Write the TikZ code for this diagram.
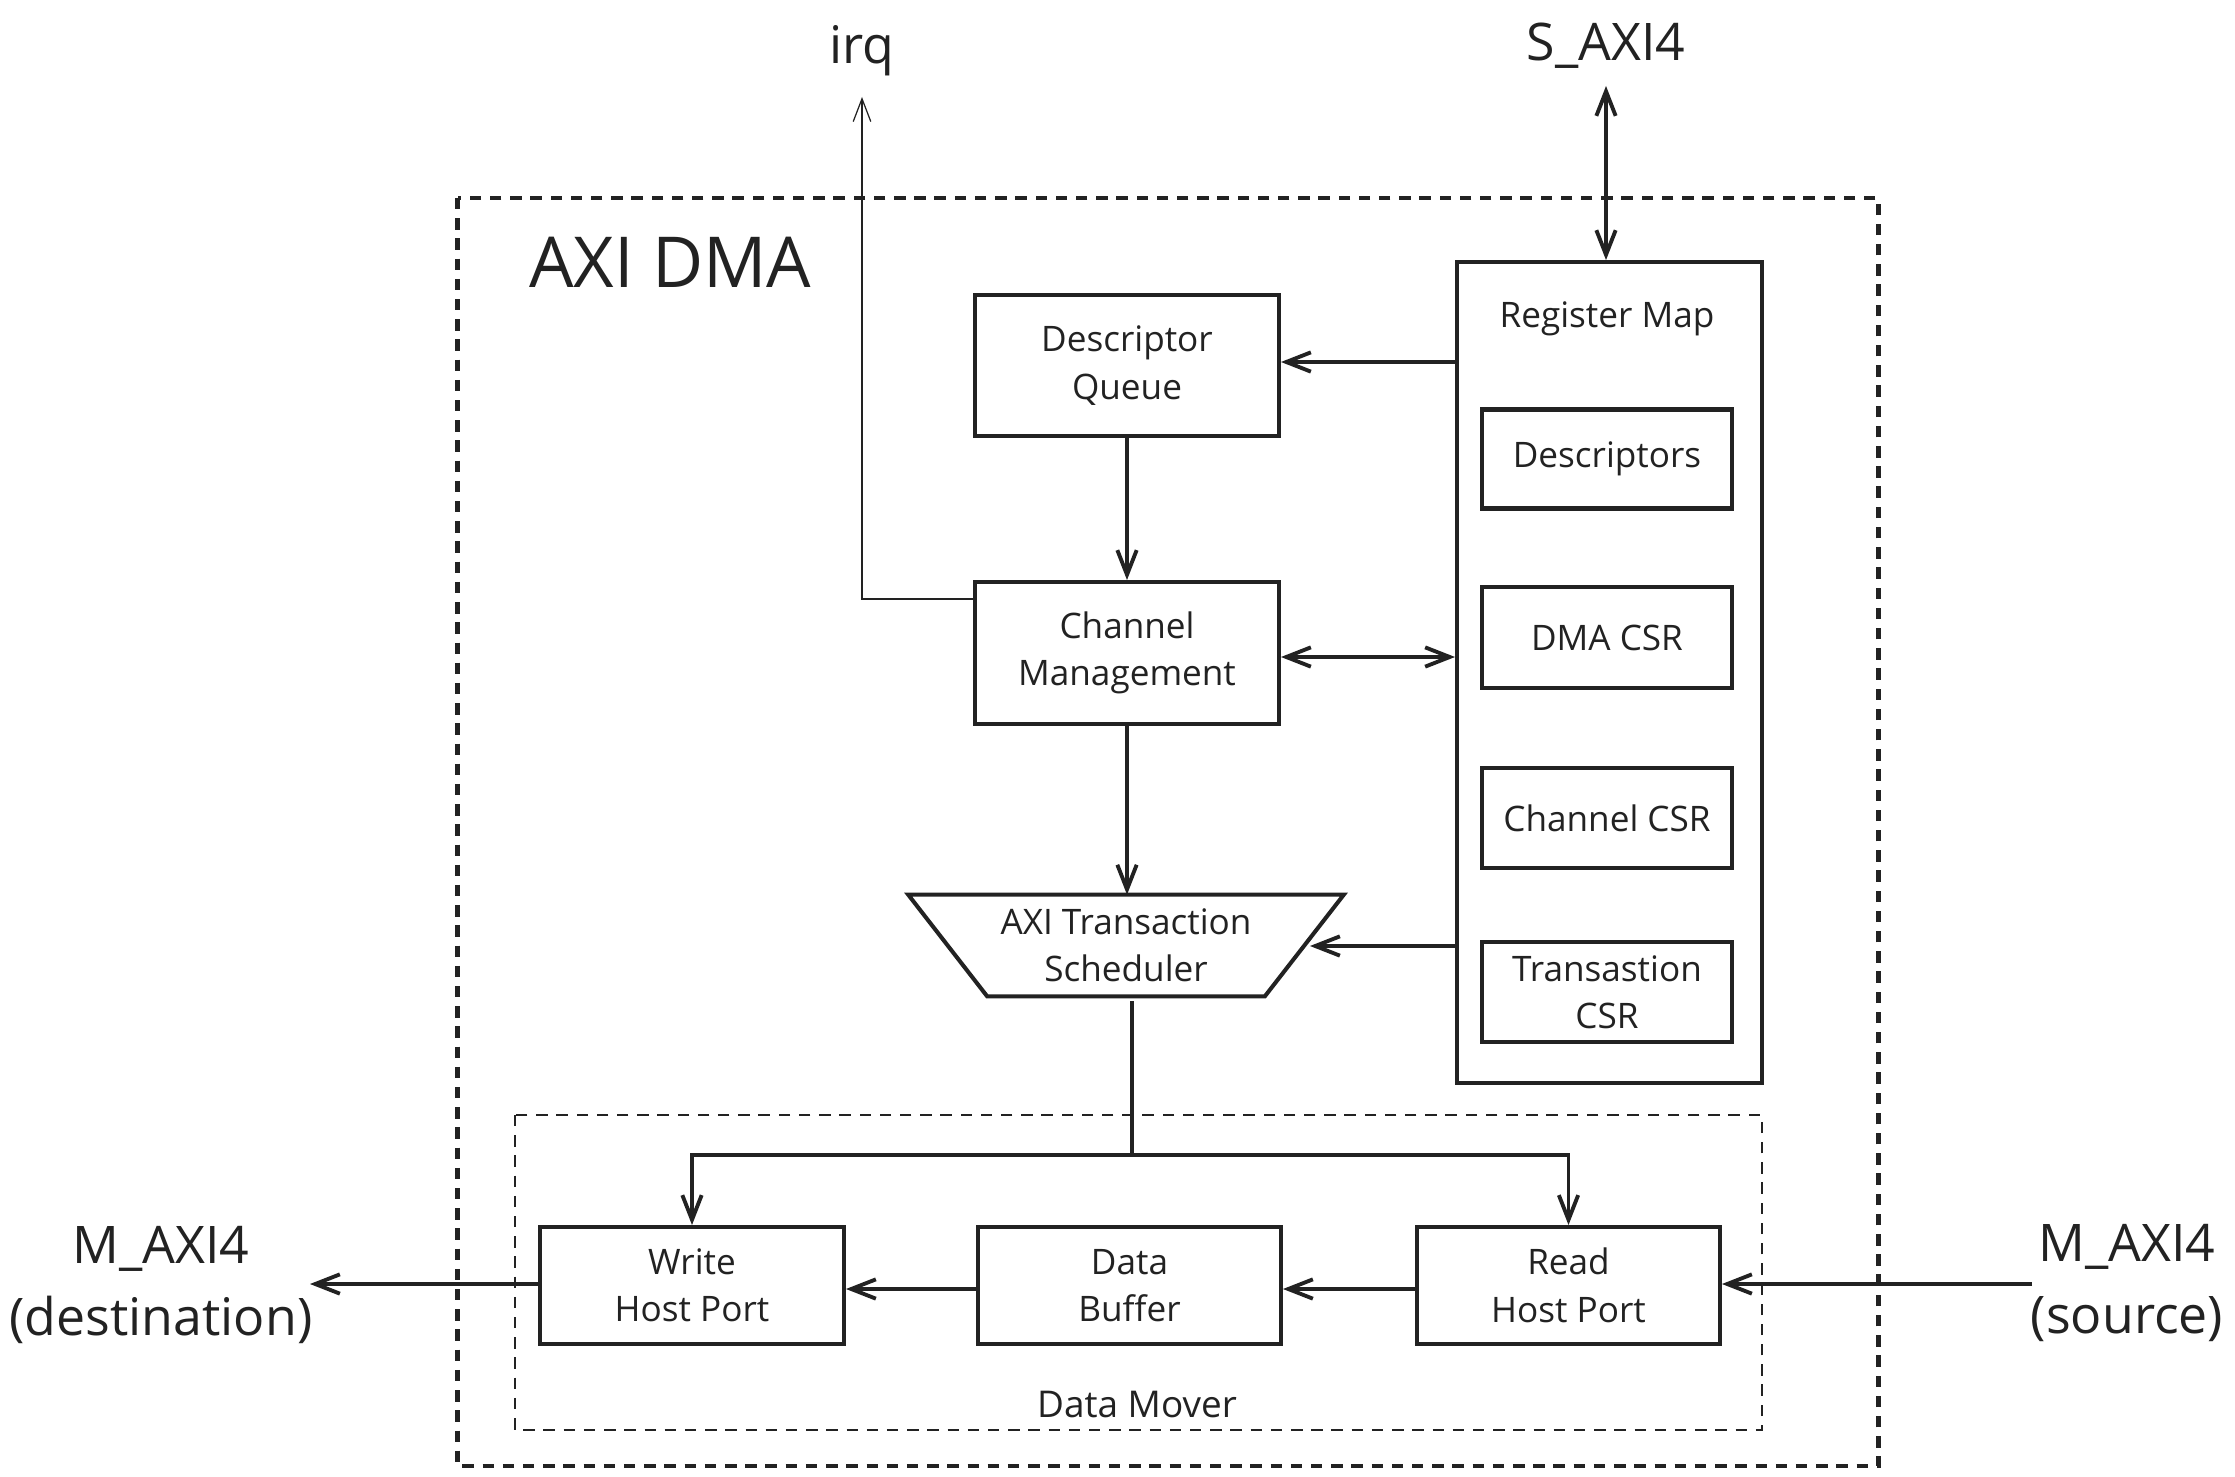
\documentclass[tikz,border=0pt]{standalone}
\usepackage{fontspec}
\setmainfont{Open Sans}
\usetikzlibrary{arrows.meta}
\definecolor{ink}{HTML}{222222}
\begin{document}
\begin{tikzpicture}[x=0.02cm,y=-0.02cm,color=ink,
  box/.style={draw=ink, line width=2.3pt, inner sep=0pt, align=center, font=\fontsize{20}{27}\selectfont},
  lbl/.style={inner sep=0pt, align=center, font=\fontsize{20}{27}\selectfont},
  big/.style={inner sep=0pt, align=center, font=\fontsize{29.5}{41}\selectfont},
  conn/.style={line width=2.2pt, draw=ink},
  arr/.style={conn, -{Straight Barb[length=14pt,width=11pt,line width=2.2pt]}},
  darr/.style={conn, {Straight Barb[length=14pt,width=11pt,line width=2.2pt]}-{Straight Barb[length=14pt,width=11pt,line width=2.2pt]}},
  thinarr/.style={line width=0.7pt, draw=ink, -{Straight Barb[length=13pt,width=10pt,line width=0.7pt]}},
  outerdash/.style={draw=ink, line width=2.4pt, dash pattern=on 6.5pt off 5pt},
  innerdash/.style={draw=ink, line width=1.4pt, dash pattern=on 6.5pt off 5pt}
]
\useasboundingbox[fill=white] (0,0) rectangle (2235,1477);

% containers
\draw[outerdash] (457.5,198) rectangle (1878.5,1466);
\node[inner sep=0pt, anchor=west, font=\fontsize{40}{48}\selectfont] (title) at (529,262) {AXI DMA};
\draw[innerdash] (515,1115) rectangle (1762,1430);
\node[lbl, font=\fontsize{21}{27}\selectfont] (dmlabel) at (1137,1404) {Data Mover};

% register map
\node[box, minimum width=6.1cm, minimum height=16.42cm] (rm) at (1609.5,672.5) {};
\node[lbl] (rmlabel) at (1607,319) {Register Map};
\node[box, minimum width=5cm, minimum height=1.98cm] (desc) at (1607,459) {Descriptors};
\node[box, minimum width=5cm, minimum height=2.02cm] (dmacsr) at (1607,637.5) {DMA CSR};
\node[box, minimum width=5cm, minimum height=2cm] (chcsr) at (1607,818) {Channel CSR};
\node[box, minimum width=5cm, minimum height=2cm] (trcsr) at (1607,992) {Transastion\\CSR};

% main blocks
\node[box, minimum width=6.08cm, minimum height=2.82cm] (dq) at (1127,365.5) {Descriptor\\Queue};
\node[box, minimum width=6.08cm, minimum height=2.84cm] (cm) at (1127,653) {Channel\\Management};
\node[lbl, minimum width=8.7cm, minimum height=2.02cm] (sched) at (1126,945.5) {AXI Transaction\\Scheduler};
\draw[line width=2.3pt, line join=miter] (sched.north west) -- (sched.north east)
  -- ([xshift=-1.58cm]sched.south east) -- ([xshift=1.58cm]sched.south west) -- cycle;
\coordinate (schedR) at (1310,946);

% data mover blocks
\node[box, minimum width=6.08cm, minimum height=2.34cm] (wr) at (692,1285.5) {Write\\Host Port};
\node[box, minimum width=6.06cm, minimum height=2.34cm] (buf) at (1129.5,1285.5) {Data\\Buffer};
\node[box, minimum width=6.06cm, minimum height=2.34cm] (rd) at (1568.5,1285.5) {Read\\Host Port};

% external labels
\node[big] (irq) at (862,51) {irq};
\node[big] (saxi) at (1606,46) {S\_AXI4};
\node[big] (mdst) at (161,1285) {M\_AXI4\\(destination)};
\node[big] (msrc) at (2127,1283) {M\_AXI4\\(source)};
\coordinate (irqtip) at (862,97);
\coordinate (sacitop) at (1606,86);
\coordinate (mdstend) at (310,1284);
\coordinate (msrcend) at (2032,1284);
\coordinate (split) at (1132,1155);

% connectors
\draw[arr] (rm.west |- 0,362) -- (dq.east |- 0,362);
\draw[arr] (dq.south) -- (cm.north);
\draw[darr] (cm.east |- 0,657) -- (rm.west |- 0,657);
\draw[arr] (cm.south) -- (sched.north -| cm.south);
\draw[arr] (rm.west |- schedR) -- (schedR);
\draw[thinarr] (cm.west |- 0,599) -- (irqtip |- 0,599) -- (irqtip);
\draw[darr] (sacitop) -- (sacitop |- rm.north);
\draw[conn] ([yshift=-0.1cm]sched.south -| split) -- (split);
\draw[arr] (split) -| (wr.north);
\draw[arr] (split) -| (rd.north);
\draw[arr] (buf.west |- 0,1289) -- (wr.east |- 0,1289);
\draw[arr] (rd.west |- 0,1289) -- (buf.east |- 0,1289);
\draw[arr] (wr.west |- mdstend) -- (mdstend);
\draw[arr] (msrcend) -- (rd.east |- msrcend);
\end{tikzpicture}
\end{document}
